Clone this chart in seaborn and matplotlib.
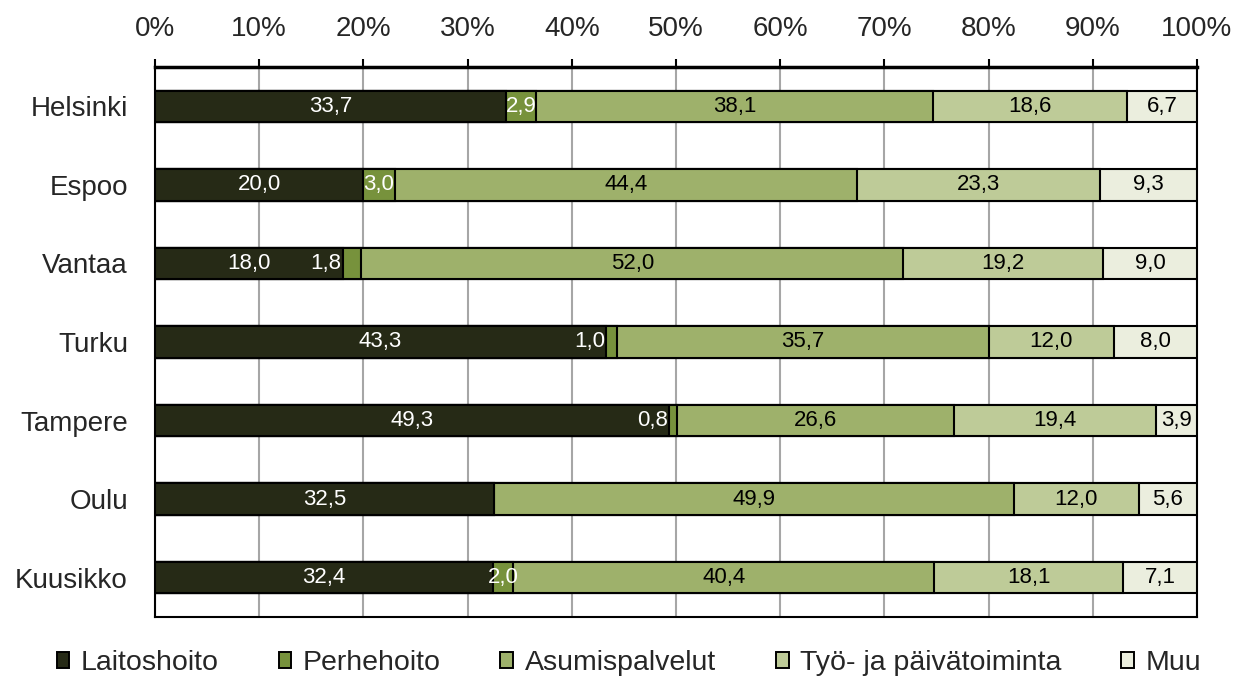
"""
Kuusikko-kuntien palvelurakenne: pinottu 100 % vaakapylväskaavio
"""
import pandas as pd
import matplotlib
matplotlib.use('Agg')
import matplotlib.pyplot as plt
from matplotlib.patches import Patch
import seaborn as sns

# Data
cities = ['Helsinki', 'Espoo', 'Vantaa', 'Turku', 'Tampere', 'Oulu', 'Kuusikko']
series = ['Laitoshoito', 'Perhehoito', 'Asumispalvelut', 'Työ- ja päivätoiminta', 'Muu']
laitoshoito = [33.7, 20.0, 18.0, 43.3, 49.3, 32.5, 32.4]
perhehoito = [2.9, 3.0, 1.8, 1.0, 0.8, 0.0, 2.0]
asumispalvelut = [38.1, 44.4, 52.0, 35.7, 26.6, 49.9, 40.4]
tyo_paiva = [18.6, 23.3, 19.2, 12.0, 19.4, 12.0, 18.1]
muu = [6.7, 9.3, 9.0, 8.0, 3.9, 5.6, 7.1]
x_ticks = [0, 10, 20, 30, 40, 50, 60, 70, 80, 90, 100]

colors = ['#262a16', '#77923c', '#9eb16b', '#becb98', '#ebeede']
text_colors = ['white', 'white', 'black', 'black', 'black']

sns.set_style('white')
plt.rcParams['font.family'] = ['Liberation Sans', 'DejaVu Sans']

df = pd.DataFrame({'Kunta': cities, 'Laitoshoito': laitoshoito, 'Perhehoito': perhehoito,
                   'Asumispalvelut': asumispalvelut, 'Työ- ja päivätoiminta': tyo_paiva,
                   'Muu': muu})
cum = df[series].cumsum(axis=1)
start = cum - df[series]

fig = plt.figure(figsize=(12.45, 6.81), dpi=100)
ax = fig.add_axes([0.1245, 0.094, 0.8369, 0.8076])

# Draw cumulative bars from the longest to the shortest so they stack
for i in reversed(range(len(series))):
    sns.barplot(x=cum[series[i]], y=df['Kunta'], orient='h', color=colors[i],
                edgecolor='black', linewidth=1.5, width=0.4, saturation=1, ax=ax, zorder=3)

# Data labels
for i, s in enumerate(series):
    for j in range(len(cities)):
        v = df[s][j]
        if v <= 0:
            continue
        lbl = f'{v:.1f}'.replace('.', ',')
        if v < 2:
            ax.text(start[s][j] - 0.1, j, lbl, ha='right', va='center',
                    color=text_colors[i], fontsize=16, zorder=5)
        else:
            ax.text(start[s][j] + v / 2, j, lbl, ha='center', va='center',
                    color=text_colors[i], fontsize=16, zorder=5)

ax.set_xlim(0, 100)
ax.set_ylim(len(cities) - 0.5, -0.5)
ax.set_xticks(x_ticks)
ax.set_xticklabels([f'{t}%' for t in x_ticks])
ax.xaxis.tick_top()
ax.tick_params(axis='x', which='both', top=True, bottom=False, direction='out',
               length=6, width=1.5, color='black', labelsize=20, pad=12)
ax.tick_params(axis='y', left=False, labelsize=20, pad=16)
ax.set_xlabel('')
ax.set_ylabel('')
ax.grid(axis='x', color='#a6a6a6', linewidth=1.5, zorder=0)
ax.set_axisbelow(True)
for side in ['left', 'right', 'bottom']:
    ax.spines[side].set_color('black')
    ax.spines[side].set_linewidth(1.5)
ax.spines['top'].set_color('black')
ax.spines['top'].set_linewidth(2.5)

handles = [Patch(facecolor=c, edgecolor='black', linewidth=1.4) for c in colors]
fig.legend(handles, series, loc='center', bbox_to_anchor=(0.505, 0.026), ncol=5,
           frameon=False, fontsize=20.5, handlelength=0.45, handleheight=0.45,
           handletextpad=0.4, columnspacing=2.1, borderpad=0)

fig.savefig('out.png', dpi=100)
